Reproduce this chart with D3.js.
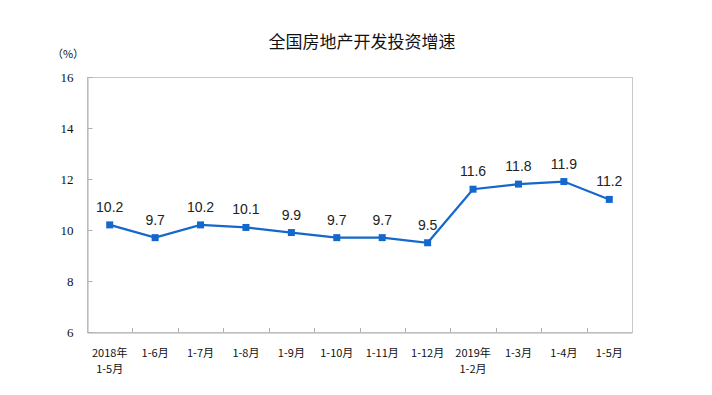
<!DOCTYPE html>
<html>
<head>
<meta charset="utf-8">
<script src="https://cdn.jsdelivr.net/npm/d3@7"></script>
<style>
  body { margin: 0; background: #fff; }
  svg { display: block; }
</style>
</head>
<body>
<svg id="chart" width="712" height="395"></svg>
<script>
// data
var categories = ["2018年\n1-5月", "1-6月", "1-7月", "1-8月", "1-9月", "1-10月", "1-11月", "1-12月", "2019年\n1-2月", "1-3月", "1-4月", "1-5月"];
var growth = [10.2, 9.7, 10.2, 10.1, 9.9, 9.7, 9.7, 9.5, 11.6, 11.8, 11.9, 11.2];
var yTicks = [6, 8, 10, 12, 14, 16];

var margin = { left: 87, right: 80, top: 77, bottom: 63 };
var W = 712, H = 395;

var svg = d3.select("#chart");

var x = d3.scaleBand()
    .domain(categories)
    .range([margin.left, W - margin.right]);

var y = d3.scaleLinear()
    .domain([6, 16])
    .range([H - margin.bottom, margin.top]);

var cjk = "'Noto Sans CJK SC', 'Noto Sans', sans-serif";
var serif = "'Liberation Serif', 'DejaVu Serif', serif";

// frame
svg.append("rect")
    .attr("x", margin.left + 0.5)
    .attr("y", margin.top + 0.5)
    .attr("width", W - margin.right - margin.left)
    .attr("height", H - margin.bottom - margin.top)
    .attr("fill", "none")
    .attr("stroke", "#c8c8c8");

// y axis
var yAxis = d3.axisLeft(y).tickValues(yTicks).tickSize(-5).tickPadding(14);
var gy = svg.append("g")
    .attr("transform", "translate(" + (margin.left + 0.5) + ",0)")
    .call(yAxis);
gy.select(".domain").attr("stroke", "#b0b0b0");
gy.selectAll(".tick line").attr("stroke", "#b0b0b0");
gy.selectAll(".tick text")
    .attr("fill", "#111")
    .style("font-family", serif)
    .style("font-size", "13px");

// x axis
var xAxis = d3.axisBottom(x).tickSize(0).tickFormat("");
var gx = svg.append("g")
    .attr("transform", "translate(0," + (H - margin.bottom + 0.5) + ")")
    .call(xAxis);
gx.select(".domain").attr("stroke", "#b0b0b0");

// category boundary ticks (inward)
svg.append("g").selectAll("line")
    .data(categories.slice(1))
    .join("line")
    .attr("x1", function (d) { return Math.round(x(d)) + 0.5; })
    .attr("x2", function (d) { return Math.round(x(d)) + 0.5; })
    .attr("y1", H - margin.bottom)
    .attr("y2", H - margin.bottom - 4)
    .attr("stroke", "#b0b0b0");

// category labels
var xl = svg.append("g").selectAll("text")
    .data(categories)
    .join("text")
    .attr("text-anchor", "middle")
    .attr("fill", "#111")
    .style("font-family", cjk)
    .style("font-size", "11px");
xl.each(function (d) {
    var t = d3.select(this);
    var cx = x(d) + x.bandwidth() / 2;
    d.split("\n").forEach(function (line, i) {
        t.append("tspan")
            .attr("x", cx)
            .attr("y", 357 + i * 16)
            .text(line);
    });
});

// line
var line = d3.line()
    .x(function (d, i) { return x(categories[i]) + x.bandwidth() / 2; })
    .y(function (d) { return y(d); });

svg.append("path")
    .datum(growth)
    .attr("fill", "none")
    .attr("stroke", "#1467cc")
    .attr("stroke-width", 2.2)
    .attr("d", line);

// markers
svg.append("g").selectAll("rect")
    .data(growth)
    .join("rect")
    .attr("x", function (d, i) { return x(categories[i]) + x.bandwidth() / 2 - 3.5; })
    .attr("y", function (d) { return y(d) - 3.5; })
    .attr("width", 7)
    .attr("height", 7)
    .attr("fill", "#1467cc");

// value labels
svg.append("g").selectAll("text")
    .data(growth)
    .join("text")
    .attr("x", function (d, i) { return x(categories[i]) + x.bandwidth() / 2; })
    .attr("y", function (d) { return y(d) - 13; })
    .attr("text-anchor", "middle")
    .attr("fill", "#222")
    .style("font-family", "'Liberation Sans', Arial, sans-serif")
    .style("font-size", "14px")
    .text(function (d) { return d.toFixed(1); });

// title
svg.append("text")
    .attr("x", 362)
    .attr("y", 48)
    .attr("text-anchor", "middle")
    .attr("fill", "#111")
    .style("font-family", cjk)
    .style("font-size", "17px")
    .text("全国房地产开发投资增速");

// unit
svg.append("text")
    .attr("x", 68)
    .attr("y", 58)
    .attr("text-anchor", "middle")
    .attr("fill", "#111")
    .style("font-family", cjk)
    .style("font-size", "11px")
    .text("（%）");
</script>
</body>
</html>
